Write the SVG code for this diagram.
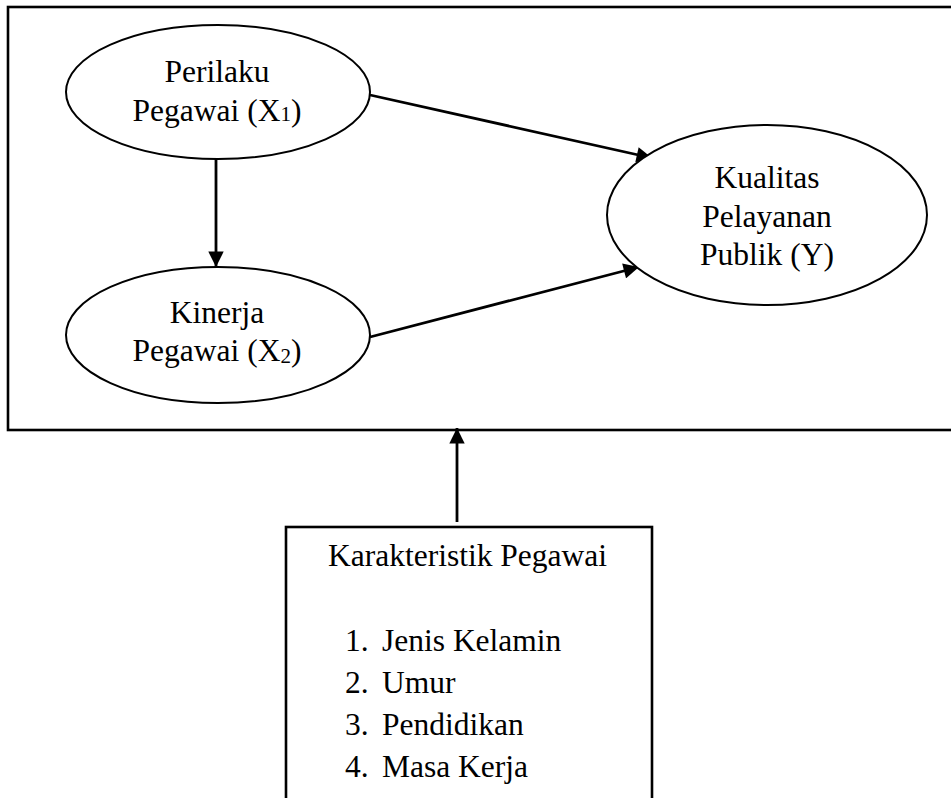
<svg xmlns="http://www.w3.org/2000/svg" width="951" height="798" viewBox="0 0 951 798">
<style>
.box{fill:none;stroke:#000;stroke-width:2.6}
.node{fill:#fff;stroke:#000;stroke-width:2}
.t{font-family:"Liberation Serif","Times New Roman",serif;font-size:31.5px;fill:#000}
.c{text-anchor:middle}
.edge{stroke:#000;stroke-width:2.8;fill:none;marker-end:url(#ah)}
</style>
<defs>
<marker id="ah" viewBox="0 0 10 10" refX="10" refY="5" markerWidth="6" markerHeight="5.5" orient="auto" markerUnits="strokeWidth">
<path d="M0,0 L10,5 L0,10 z" fill="#000"/>
</marker>
</defs>
<rect x="8" y="7" width="960" height="423" class="box"/>
<g id="connectors">
<line x1="216" y1="159" x2="216" y2="267" class="edge"/>
<line x1="370" y1="95" x2="652" y2="158" class="edge"/>
<line x1="370" y1="337" x2="639" y2="267" class="edge"/>
<line x1="457" y1="522" x2="457" y2="428" class="edge"/>
</g>
<g id="perilaku">
<ellipse cx="218" cy="92" rx="152" ry="67" class="node"/>
<text x="217" y="82" class="t c">Perilaku</text>
<text x="217" y="121" class="t c">Pegawai (X<tspan font-size="21">1</tspan>)</text>
</g>
<g id="kinerja">
<ellipse cx="218" cy="335" rx="152" ry="68" class="node"/>
<text x="217" y="323" class="t c">Kinerja</text>
<text x="217" y="361" class="t c">Pegawai (X<tspan font-size="21" dy="2">2</tspan><tspan dy="-2">)</tspan></text>
</g>
<g id="kualitas">
<ellipse cx="767" cy="215" rx="160" ry="90" class="node"/>
<text x="767" y="188" class="t c">Kualitas</text>
<text x="767" y="227" class="t c">Pelayanan</text>
<text x="767" y="265" class="t c">Publik (Y)</text>
</g>
<g id="karakteristik">
<rect x="286" y="527" width="366" height="300" class="box"/>
<text x="328" y="566" class="t">Karakteristik Pegawai</text>
<text x="345" y="651" class="t">1.</text><text x="382" y="651" class="t">Jenis Kelamin</text>
<text x="345" y="693" class="t">2.</text><text x="382" y="693" class="t">Umur</text>
<text x="345" y="735" class="t">3.</text><text x="382" y="735" class="t">Pendidikan</text>
<text x="345" y="777" class="t">4.</text><text x="382" y="777" class="t">Masa Kerja</text>
</g>
</svg>
